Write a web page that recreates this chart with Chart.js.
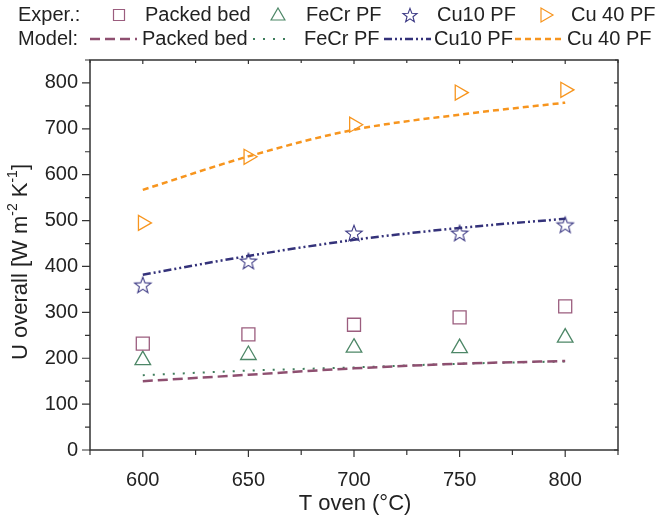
<!DOCTYPE html>
<html>
<head>
<meta charset="utf-8">
<script src="https://cdn.jsdelivr.net/npm/chart.js@4/dist/chart.umd.min.js"></script>
<style>
  html, body { margin: 0; padding: 0; background: #fff; }
  #container-u { width: 664px; height: 522px; }
</style>
</head>
<body>
<div id="container-u"><canvas id="chart-u"></canvas></div>
<script>
// oven temperature (°C)
const temps = [600, 650, 700, 750, 800]

// measured overall heat transfer coefficient
const exp_packed = [232, 252, 273, 289, 313]
const exp_fecr = [196, 207, 223, 222, 245]
const exp_cu10 = [360, 412, 473, 473, 491]
const exp_cu40 = [495, 639, 709, 779, 785]

// model predictions
const model_packed = [150, 164, 178, 188, 194]
const model_fecr = [163, 173, 180, 188, 193]
const model_cu10 = [382, 423, 458, 484, 504]
const model_cu40 = [567, 640, 698, 731, 757]

const x_ticks = [600, 650, 700, 750, 800]
const y_ticks = [0, 100, 200, 300, 400, 500, 600, 700, 800]

const col_packed = '#9b5d7e'
const col_fecr = '#4d8767'
const col_cu10 = '#3d3a85'
const col_cu40 = '#f7951e'
const line_packed = '#8e4f70'
const line_fecr = '#3f7d5c'
const line_cu10 = '#34327a'

const font_family = '"Liberation Sans", Arial, sans-serif'
const text_color = '#222'

function star_path(ctx, x, y, r_out, r_in){
  ctx.beginPath()
  for (let i = 0; i < 10; i++){
    const r = i % 2 === 0 ? r_out : r_in
    const a = -Math.PI / 2 + i * Math.PI / 5
    const px = x + r * Math.cos(a)
    const py = y + r * Math.sin(a)
    if (i === 0) ctx.moveTo(px, py)
    else ctx.lineTo(px, py)
  }
  ctx.closePath()
}

function make_star(color, r_out){
  const c = document.createElement('canvas')
  c.width = 20
  c.height = 20
  const ctx = c.getContext('2d')
  ctx.strokeStyle = color
  ctx.lineWidth = 1.1
  star_path(ctx, 10, 10.8, r_out, r_out * 0.42)
  ctx.stroke()
  return c
}
const star_img = make_star(col_cu10, 8.6)
const star_small = make_star(col_cu10, 7.4)

const pts = arr => temps.map((t, i) => ({x: t, y: arr[i]}))

function exp_set(label, arr, color, style, radius, rotation){
  return {
    label: label,
    data: pts(arr),
    showLine: false,
    borderColor: color,
    backgroundColor: 'rgba(0,0,0,0)',
    borderWidth: 1.3,
    pointStyle: style,
    pointRadius: radius,
    pointHoverRadius: radius,
    pointRotation: rotation || 0,
  }
}

function model_set(label, arr, color, dash, width){
  return {
    label: label,
    data: pts(arr),
    showLine: true,
    borderColor: color,
    borderWidth: width,
    borderDash: dash,
    pointRadius: 0,
    cubicInterpolationMode: 'monotone',
    fill: false,
  }
}

// key symbols are drawn a little smaller than the plotted ones
function draw_marker(ctx, kind, x, y, color){
  ctx.save()
  ctx.strokeStyle = color
  ctx.lineWidth = 1.2
  ctx.beginPath()
  if (kind === 'rect'){
    ctx.rect(x - 5.5, y - 5.5, 11, 11)
    ctx.stroke()
  } else if (kind === 'triangle'){
    const r = 8
    ctx.moveTo(x, y - r)
    ctx.lineTo(x + r * 0.866, y + r / 2)
    ctx.lineTo(x - r * 0.866, y + r / 2)
    ctx.closePath()
    ctx.stroke()
  } else if (kind === 'right'){
    const r = 8
    ctx.moveTo(x + r, y)
    ctx.lineTo(x - r / 2, y - r * 0.866)
    ctx.lineTo(x - r / 2, y + r * 0.866)
    ctx.closePath()
    ctx.stroke()
  } else if (kind === 'star'){
    ctx.drawImage(star_small, x - 10, y - 10)
  }
  ctx.restore()
}

function draw_sample(ctx, x0, x1, y, color, dash, width){
  ctx.save()
  ctx.strokeStyle = color
  ctx.lineWidth = width
  ctx.setLineDash(dash)
  ctx.beginPath()
  ctx.moveTo(x0, y)
  ctx.lineTo(x1, y)
  ctx.stroke()
  ctx.restore()
}

const dash_packed = [10, 5]
const dash_fecr = [2, 8]
const dash_cu10 = [8, 3, 2, 3, 2, 3]
const dash_cu40 = [6, 4]

// frame, tick marks, axis titles and the two-row key
const decorations = {
  id: 'decorations',
  afterDraw(chart){
    const ctx = chart.ctx
    const a = chart.chartArea
    const xs = chart.scales.x
    const ys = chart.scales.y
    ctx.save()
    ctx.strokeStyle = '#333'
    ctx.lineWidth = 1.5
    ctx.strokeRect(a.left, a.top, a.right - a.left, a.bottom - a.top)

    ctx.lineWidth = 1.2
    ctx.beginPath()
    for (let v = 575; v <= 825; v += 25){
      const px = xs.getPixelForValue(v)
      const major = v % 50 === 0
      ctx.moveTo(px, a.bottom)
      ctx.lineTo(px, a.bottom + (major ? 7 : 5))
      ctx.moveTo(px, a.top)
      ctx.lineTo(px, a.top + (major ? 4 : 3))
    }
    for (let v = 0; v <= 850; v += 50){
      const py = ys.getPixelForValue(v)
      const major = v % 100 === 0
      ctx.moveTo(a.left, py)
      ctx.lineTo(a.left - (major ? 8 : 5), py)
      ctx.moveTo(a.right, py)
      ctx.lineTo(a.right - (major ? 4 : 3), py)
    }
    ctx.stroke()

    ctx.fillStyle = text_color
    ctx.textBaseline = 'middle'

    // x title
    ctx.font = `22px ${font_family}`
    ctx.textAlign = 'center'
    ctx.fillText('T oven (°C)', 355, 504)

    // y title with superscripts
    const big = `22px ${font_family}`
    const small = `14px ${font_family}`
    const parts = [
      ['U overall [W m', big, 0],
      ['-2', small, -8],
      [' K', big, 0],
      ['-1', small, -8],
      [']', big, 0],
    ]
    let total = 0
    parts.forEach(p => { ctx.font = p[1]; total += ctx.measureText(p[0]).width })
    ctx.translate(21, 262)
    ctx.rotate(-Math.PI / 2)
    ctx.textAlign = 'left'
    let cx = -total / 2
    parts.forEach(p => {
      ctx.font = p[1]
      ctx.fillText(p[0], cx, p[2])
      cx += ctx.measureText(p[0]).width
    })
    ctx.restore()

    // key
    ctx.save()
    ctx.fillStyle = text_color
    ctx.font = `20px ${font_family}`
    ctx.textBaseline = 'middle'
    ctx.textAlign = 'left'
    const r1 = 15
    const r2 = 39
    ctx.fillText('Exper.:', 18, r1)
    ctx.fillText('Model:', 18, r2)

    draw_marker(ctx, 'rect', 119, r1, col_packed)
    ctx.fillText('Packed bed', 145, r1)
    draw_marker(ctx, 'triangle', 278, r1 + 1, col_fecr)
    ctx.fillText('FeCr PF', 306, r1)
    draw_marker(ctx, 'star', 410, r1, col_cu10)
    ctx.fillText('Cu10 PF', 437, r1)
    draw_marker(ctx, 'right', 545, r1, col_cu40)
    ctx.fillText('Cu 40 PF', 571, r1)

    draw_sample(ctx, 90, 137, r2, line_packed, dash_packed, 2.5)
    ctx.fillText('Packed bed', 142, r2)
    draw_sample(ctx, 253, 290, r2, line_fecr, dash_fecr, 2)
    ctx.fillText('FeCr PF', 304, r2)
    draw_sample(ctx, 384, 431, r2, line_cu10, dash_cu10, 2.5)
    ctx.fillText('Cu10 PF', 434, r2)
    draw_sample(ctx, 515, 563, r2, col_cu40, dash_cu40, 2.5)
    ctx.fillText('Cu 40 PF', 567, r2)
    ctx.restore()
  }
}

const canvas = document.getElementById('chart-u')

let chart = new Chart(canvas, {
  type: 'scatter',
  data: {
    datasets: [
      model_set('Model Packed bed', model_packed, line_packed, dash_packed, 2.5),
      model_set('Model FeCr PF', model_fecr, line_fecr, dash_fecr, 2),
      model_set('Model Cu10 PF', model_cu10, line_cu10, dash_cu10, 2.5),
      model_set('Model Cu 40 PF', model_cu40, col_cu40, dash_cu40, 2.5),
      exp_set('Exper. Packed bed', exp_packed, col_packed, 'rect', 9.2),
      exp_set('Exper. FeCr PF', exp_fecr, col_fecr, 'triangle', 9),
      exp_set('Exper. Cu10 PF', exp_cu10, col_cu10, star_img, 10),
      exp_set('Exper. Cu 40 PF', exp_cu40, col_cu40, 'triangle', 8.7, 90),
    ]
  },
  options: {
    responsive: true,
    maintainAspectRatio: false,
    animation: false,
    layout: {
      padding: {left: 0, top: 60, right: 46, bottom: 0}
    },
    plugins: {
      legend: {display: false},
      tooltip: {enabled: false},
    },
    scales: {
      x: {
        type: 'linear',
        min: 575,
        max: 825,
        grid: {display: false},
        border: {display: false},
        afterBuildTicks: scale => { scale.ticks = x_ticks.map(v => ({value: v})) },
        afterFit: scale => { scale.height = 72 },
        ticks: {
          padding: 10,
          color: text_color,
          font: {family: font_family, size: 20},
          maxRotation: 0,
        },
      },
      y: {
        type: 'linear',
        min: 0,
        max: 850,
        grid: {display: false},
        border: {display: false},
        afterBuildTicks: scale => { scale.ticks = y_ticks.map(v => ({value: v})) },
        afterFit: scale => { scale.width = 90 },
        ticks: {
          padding: 4,
          color: text_color,
          font: {family: font_family, size: 20},
        },
      }
    }
  },
  plugins: [decorations]
})
</script>
</body>
</html>
